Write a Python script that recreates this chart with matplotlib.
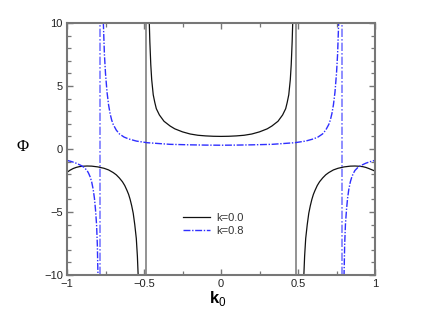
#!/usr/bin/env python3
"""Phi(k0) for k=0.0 and k=0.8, with the pole lines drawn through."""

import matplotlib
matplotlib.use("Agg")
import matplotlib.pyplot as plt
from matplotlib.ticker import MultipleLocator, FuncFormatter

plt.rcParams["font.family"] = ["Liberation Sans", "DejaVu Sans"]
plt.rcParams["mathtext.fontset"] = "custom"
plt.rcParams["mathtext.rm"] = "Liberation Sans"
plt.rcParams["mathtext.bf"] = "Liberation Sans:bold"

# k = 0.0 (solid black)
k0_in_a = [-0.468, -0.462, -0.456, -0.45, -0.44, -0.43, -0.42, -0.40, -0.37,
           -0.33, -0.30, -0.25, -0.20, -0.15, -0.10, -0.05, 0.00, 0.05, 0.10,
           0.15, 0.20, 0.25, 0.30, 0.33, 0.37, 0.40, 0.42, 0.43, 0.44, 0.45,
           0.456, 0.462, 0.468]
phi_in_a = [11.0, 8.5, 6.7, 5.5, 4.3, 3.7, 3.2, 2.7, 2.2, 1.82, 1.60, 1.36,
            1.19, 1.09, 1.04, 1.01, 1.00, 1.01, 1.04, 1.09, 1.19, 1.36, 1.60,
            1.82, 2.2, 2.7, 3.2, 3.7, 4.3, 5.5, 6.7, 8.5, 11.0]
k0_left_a = [-1.00, -0.98, -0.96, -0.94, -0.92, -0.90, -0.87, -0.84, -0.80,
             -0.76, -0.73, -0.70, -0.68, -0.66, -0.64, -0.625, -0.61, -0.60,
             -0.59, -0.58, -0.57, -0.56, -0.55, -0.543, -0.538, -0.534]
phi_left_a = [-1.85, -1.68, -1.55, -1.46, -1.40, -1.37, -1.35, -1.36, -1.42,
              -1.53, -1.66, -1.87, -2.05, -2.3, -2.6, -2.9, -3.3, -3.6, -4.0,
              -4.5, -5.1, -6.0, -7.1, -8.5, -10.0, -11.5]
k0_right_a = [0.534, 0.538, 0.543, 0.55, 0.56, 0.57, 0.58, 0.59, 0.60, 0.61,
              0.625, 0.64, 0.66, 0.68, 0.70, 0.73, 0.76, 0.80, 0.84, 0.87,
              0.90, 0.92, 0.94, 0.96, 0.98, 1.00]
phi_right_a = [-11.5, -10.0, -8.5, -7.1, -6.0, -5.1, -4.5, -4.0, -3.6, -3.3,
               -2.9, -2.6, -2.3, -2.05, -1.87, -1.66, -1.53, -1.42, -1.36,
               -1.35, -1.37, -1.40, -1.46, -1.55, -1.65, -1.75]
pole_a = [-0.49, 0.49]

# k = 0.8 (blue dash-dot)
k0_in_b = [-0.770, -0.764, -0.757, -0.75, -0.74, -0.73, -0.72, -0.71, -0.70,
           -0.68, -0.66, -0.63, -0.60, -0.55, -0.48, -0.40, -0.33, -0.20,
           -0.10, 0.00, 0.10, 0.20, 0.33, 0.40, 0.48, 0.55, 0.60, 0.63, 0.66,
           0.68, 0.70, 0.71, 0.72, 0.73, 0.74, 0.75, 0.757, 0.764, 0.770]
phi_in_b = [12.0, 10.0, 7.5, 6.0, 4.5, 3.5, 2.8, 2.3, 1.95, 1.5, 1.2, 0.95,
            0.80, 0.63, 0.50, 0.43, 0.37, 0.33, 0.31, 0.30, 0.31, 0.33, 0.37,
            0.43, 0.50, 0.63, 0.80, 0.95, 1.2, 1.5, 1.95, 2.3, 2.8, 3.5, 4.5,
            6.0, 7.5, 10.0, 12.0]
k0_left_b = [-1.00, -0.97, -0.94, -0.91, -0.89, -0.87, -0.86, -0.85, -0.84,
             -0.83, -0.822, -0.815, -0.808, -0.803, -0.799, -0.796]
phi_left_b = [-0.90, -1.00, -1.13, -1.30, -1.45, -1.70, -1.92, -2.2, -2.6,
              -3.2, -3.9, -4.8, -6.0, -7.6, -10.0, -12.0]
k0_right_b = [0.796, 0.799, 0.803, 0.808, 0.815, 0.822, 0.83, 0.84, 0.85,
              0.86, 0.87, 0.89, 0.91, 0.94, 0.97, 1.00]
phi_right_b = [-12.0, -10.0, -7.6, -6.0, -4.8, -3.9, -3.2, -2.6, -2.2, -1.92,
               -1.70, -1.45, -1.30, -1.13, -1.00, -0.90]
pole_b = [-0.785, 0.785]

labels = ["k=0.0", "k=0.8"]

BLACK = "#111111"
BLUE = "#2f2fff"
DASHDOT = (0, (5, 1.2, 1, 1.2))
AXCOL = "#777777"


def minus(v, pos):
    return f"{v:g}".replace("-", "\u2212")


fig = plt.figure(figsize=(4.25, 3.27), dpi=100)
ax = fig.add_axes([67 / 425, 1 - 275 / 327, 308 / 425, 252 / 327])

for x in pole_a:
    ax.axvline(x, color="#8a8a8a", lw=1.3, zorder=1)
for x in pole_b:
    ax.axvline(x, color="#7a7aff", lw=1.2, ls=DASHDOT, zorder=1)

ax.plot(k0_in_a, phi_in_a, color=BLACK, lw=0.9, label=labels[0])
ax.plot(k0_left_a, phi_left_a, color=BLACK, lw=0.9)
ax.plot(k0_right_a, phi_right_a, color=BLACK, lw=0.9)

ax.plot(k0_in_b, phi_in_b, color=BLUE, lw=1.0, ls=DASHDOT, label=labels[1])
ax.plot(k0_left_b, phi_left_b, color=BLUE, lw=1.0, ls=DASHDOT)
ax.plot(k0_right_b, phi_right_b, color=BLUE, lw=1.0, ls=DASHDOT)

ax.set_xlim(-1, 1)
ax.set_ylim(-10, 10)
ax.xaxis.set_major_locator(MultipleLocator(0.5))
ax.xaxis.set_minor_locator(MultipleLocator(0.25))
ax.yaxis.set_major_locator(MultipleLocator(5))
ax.yaxis.set_minor_locator(MultipleLocator(1))
ax.xaxis.set_major_formatter(FuncFormatter(minus))
ax.yaxis.set_major_formatter(FuncFormatter(minus))

ax.tick_params(which="both", direction="in", top=True, right=True,
               color=AXCOL, labelsize=8, labelcolor="#222222")
ax.tick_params(which="major", length=4.5, width=1.0, pad=3)
ax.tick_params(which="minor", length=3, width=0.9)
for s in ax.spines.values():
    s.set_color(AXCOL)
    s.set_linewidth(1.5)

ax.text(-0.143, 0.508, "\u03a6", transform=ax.transAxes, fontsize=12,
        family=["Liberation Serif", "DejaVu Serif"], ha="center", va="center")
ax.text(0.49, -0.095, r"$\mathbf{k}_{0}$", transform=ax.transAxes,
        fontsize=12, ha="center", va="center")

leg = ax.legend(loc="upper left", bbox_to_anchor=(0.377, 0.245),
                frameon=False, fontsize=8, handlelength=2.4,
                handletextpad=0.6, labelspacing=0.25, borderpad=0,
                borderaxespad=0)
for t in leg.get_texts():
    t.set_color("#333333")

fig.savefig("out.png", dpi=100)
